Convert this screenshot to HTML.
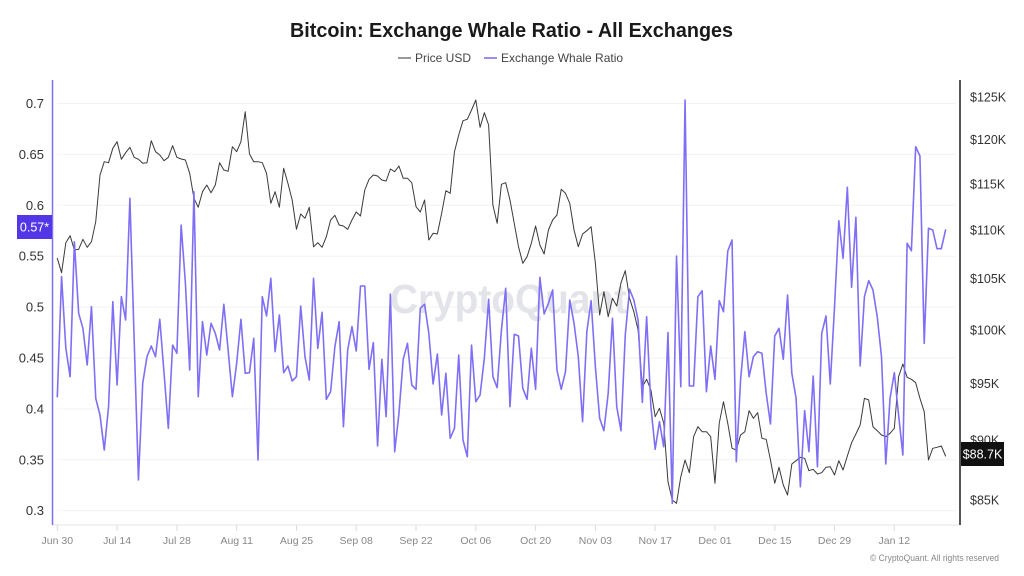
<!DOCTYPE html>
<html>
<head>
<meta charset="utf-8">
<style>
  html,body{margin:0;padding:0;background:#fff;}
  body{width:1024px;height:576px;overflow:hidden;}
  svg{display:block;font-family:"Liberation Sans",Arial,sans-serif;}
</style>
</head>
<body>
<svg width="1024" height="576" viewBox="0 0 1024 576" xmlns="http://www.w3.org/2000/svg">
  <rect x="0" y="0" width="1024" height="576" fill="#ffffff"/>

  <!-- Title -->
  <text x="290" y="37" font-size="20" font-weight="bold" fill="#1a1a1a" textLength="443" lengthAdjust="spacingAndGlyphs">Bitcoin: Exchange Whale Ratio - All Exchanges</text>

  <!-- Legend -->
  <line x1="398" y1="58" x2="411" y2="58" stroke="#555" stroke-width="1.2"/>
  <text x="415" y="62" font-size="12" fill="#444">Price USD</text>
  <line x1="484" y1="58" x2="497" y2="58" stroke="#8070f7" stroke-width="1.6"/>
  <text x="501" y="62" font-size="12" fill="#444">Exchange Whale Ratio</text>

  <!-- Gridlines -->
  <g stroke="#f2f2f2" stroke-width="1">
    <line x1="57" y1="103.5" x2="956" y2="103.5"/>
    <line x1="57" y1="154.4" x2="956" y2="154.4"/>
    <line x1="57" y1="205.3" x2="956" y2="205.3"/>
    <line x1="57" y1="256.2" x2="956" y2="256.2"/>
    <line x1="57" y1="307.1" x2="956" y2="307.1"/>
    <line x1="57" y1="358" x2="956" y2="358"/>
    <line x1="57" y1="408.9" x2="956" y2="408.9"/>
    <line x1="57" y1="459.8" x2="956" y2="459.8"/>
    <line x1="57" y1="510.7" x2="956" y2="510.7"/>
  </g>

  <!-- Watermark -->
  <text x="390" y="313" font-size="41" font-weight="bold" fill="#e3e3ea" textLength="237" lengthAdjust="spacingAndGlyphs">CryptoQuant</text>

  <!-- X axis -->
  <line x1="52" y1="525" x2="960" y2="525" stroke="#e4e4e4" stroke-width="1"/>
  <g stroke="#dcdcdc" stroke-width="1">
    <line x1="57.3" y1="525" x2="57.3" y2="531"/>
    <line x1="117.1" y1="525" x2="117.1" y2="531"/>
    <line x1="176.9" y1="525" x2="176.9" y2="531"/>
    <line x1="236.7" y1="525" x2="236.7" y2="531"/>
    <line x1="296.5" y1="525" x2="296.5" y2="531"/>
    <line x1="356.2" y1="525" x2="356.2" y2="531"/>
    <line x1="416" y1="525" x2="416" y2="531"/>
    <line x1="475.8" y1="525" x2="475.8" y2="531"/>
    <line x1="535.6" y1="525" x2="535.6" y2="531"/>
    <line x1="595.4" y1="525" x2="595.4" y2="531"/>
    <line x1="655.2" y1="525" x2="655.2" y2="531"/>
    <line x1="715" y1="525" x2="715" y2="531"/>
    <line x1="774.8" y1="525" x2="774.8" y2="531"/>
    <line x1="834.5" y1="525" x2="834.5" y2="531"/>
    <line x1="894.3" y1="525" x2="894.3" y2="531"/>
  </g>
  <g font-size="10.5" fill="#888" text-anchor="middle">
    <text x="57.3" y="544">Jun 30</text>
    <text x="117.1" y="544">Jul 14</text>
    <text x="176.9" y="544">Jul 28</text>
    <text x="236.7" y="544">Aug 11</text>
    <text x="296.5" y="544">Aug 25</text>
    <text x="356.2" y="544">Sep 08</text>
    <text x="416" y="544">Sep 22</text>
    <text x="475.8" y="544">Oct 06</text>
    <text x="535.6" y="544">Oct 20</text>
    <text x="595.4" y="544">Nov 03</text>
    <text x="655.2" y="544">Nov 17</text>
    <text x="715" y="544">Dec 01</text>
    <text x="774.8" y="544">Dec 15</text>
    <text x="834.5" y="544">Dec 29</text>
    <text x="894.3" y="544">Jan 12</text>
  </g>

  <!-- Left axis -->
  <line x1="52.5" y1="80" x2="52.5" y2="525" stroke="#7f6ff7" stroke-width="1.5"/>
  <g font-size="13" fill="#333" text-anchor="end">
    <text x="44" y="108">0.7</text>
    <text x="44" y="158.9">0.65</text>
    <text x="44" y="209.8">0.6</text>
    <text x="44" y="260.7">0.55</text>
    <text x="44" y="311.6">0.5</text>
    <text x="44" y="362.5">0.45</text>
    <text x="44" y="413.4">0.4</text>
    <text x="44" y="464.3">0.35</text>
    <text x="44" y="515.2">0.3</text>
  </g>
  <rect x="17" y="215" width="35" height="24" fill="#5336e6"/>
  <text x="34.5" y="231.5" font-size="12.5" fill="#fff" text-anchor="middle">0.57*</text>

  <!-- Right axis -->
  <line x1="960" y1="80" x2="960" y2="525" stroke="#555" stroke-width="2"/>
  <g font-size="12.5" fill="#333">
    <text x="970" y="101.5">$125K</text>
    <text x="970" y="144">$120K</text>
    <text x="970" y="188.5">$115K</text>
    <text x="970" y="234.5">$110K</text>
    <text x="970" y="283">$105K</text>
    <text x="970" y="334.5">$100K</text>
    <text x="970" y="388">$95K</text>
    <text x="970" y="444.5">$90K</text>
    <text x="970" y="504.5">$85K</text>
  </g>

  <!-- Series -->
  <g transform="translate(57.3,0) scale(4.2705,1)" fill="none" stroke-linejoin="round" stroke-linecap="round">
    <polyline vector-effect="non-scaling-stroke" stroke="#3a3a3a" stroke-width="1" points="0,258.3 1,272.7 2,242.7 3,235.7 4,250 5,249.3 6,239.3 7,247.3 8,241.7 9,221.7 10,175 11,161.7 12,162.7 13,148.3 14,141.7 15,159.3 16,152.7 17,147.3 18,157.3 19,159.3 20,163.3 21,162.7 22,140.7 23,151.7 24,155 25,160.7 26,157.3 27,145.7 28,157.3 29,159 30,160 31,173.3 32,198.3 33,207.3 34,191.7 35,185 36,192.7 37,185 38,162.7 39,170 40,171.3 41,146.7 42,151.7 43,141.7 44,111.7 45,154 46,161.7 47,161.7 48,162.7 49,173.3 50,203.3 51,191.7 52,207.3 53,168.3 54,183.3 55,200 56,229.3 57,214 58,218.3 59,207.3 60,246.7 61,242.7 62,247.3 63,236.7 64,220 65,215.3 66,225 67,226 68,229.3 69,220 70,212 71,216 72,190 73,179.3 74,175 75,176 76,180 77,181 78,169 79,171.7 80,166 81,178.3 82,178.3 83,182.7 84,206.7 85,212 86,200 87,240 88,233.3 89,234 90,213.3 91,190.7 92,193.3 93,151.7 94,135 95,120.7 96,119.3 97,110 98,100 99,127.3 100,112.7 101,125 102,205 103,223.3 104,184.3 105,182.7 106,200 107,223.3 108,246.7 109,263.3 110,256.7 111,243.3 112,226 113,245 114,254 115,230 116,220 117,215 118,189.3 119,193.3 120,203.3 121,230 122,246.7 123,234 124,230.7 125,226.7 126,263.3 127,315 128,291.7 129,316.7 130,298.3 131,306 132,282.7 133,270.7 134,298.3 135,311.7 136,330 137,386.7 138,379.3 139,390 140,416.7 141,408.3 142,423.3 143,481.7 144,500 145,503.3 146,476.7 147,460 148,472.7 149,436.7 150,426.7 151,431.7 152,431.7 153,436.7 154,483.3 155,423.3 156,401.7 157,423.3 158,448.3 159,450 160,435 161,431.7 162,410.7 163,418.3 164,412.7 165,438.3 166,439.3 167,460 168,483.3 169,467.3 170,485 171,495 172,464 173,460.7 174,457.3 175,458.3 176,470.7 177,469.3 178,474 179,472.7 180,467.3 181,466.7 182,475 183,460.7 184,470 185,456 186,442.7 187,434 188,425 189,398.3 190,400 191,426.7 192,430.7 193,435 194,436.7 195,433.3 196,428.3 197,376.7 198,364 199,377.3 200,379.3 201,382.7 202,398.3 203,411.7 204,460 205,448.3 206,447.3 207,446 208,456"/>
    <polyline vector-effect="non-scaling-stroke" stroke="#7f6ff7" stroke-width="1.6" points="0,396.7 1,276.7 2,348.3 3,376.7 4,241.7 5,313.3 6,328.3 7,365 8,306.7 9,398.3 10,415 11,450 12,406.7 13,301.7 14,385 15,296.7 16,320 17,198.3 18,340 19,480 20,383.3 21,356.7 22,346 23,356.7 24,319.3 25,373.3 26,428.3 27,345 28,353.3 29,225 30,283.3 31,370 32,191.7 33,396.7 34,321.7 35,355 36,323.3 37,333.3 38,350 39,304.3 40,350 41,396.7 42,363.3 43,319.3 44,373.3 45,372.7 46,338.3 47,460 48,296.7 49,316 50,278.3 51,351.7 52,315 53,372.7 54,366 55,381 56,376.7 57,306 58,356.7 59,380 60,278.3 61,348.3 62,312.3 63,399.3 64,391.7 65,346.7 66,321.7 67,426.7 68,350 69,326.7 70,351 71,286 72,286 73,369.3 74,342.7 75,446 76,359.3 77,416.7 78,294 79,451.7 80,413.3 81,359.3 82,343.3 83,385 84,389.3 85,308.3 86,304.3 87,333.3 88,384 89,354 90,415 91,373.3 92,438.3 93,428.3 94,355 95,440 96,456.7 97,345 98,401.7 99,395 100,358.3 101,299.3 102,376.7 103,387.7 104,330 105,288.3 106,406.7 107,334.3 108,336 109,388.3 110,399.3 111,348.3 112,389.3 113,277.3 114,314 115,303.3 116,290 117,370 118,389.3 119,371.7 120,300 121,323.3 122,356.7 123,421.7 124,331.7 125,300.7 126,366.7 127,418.3 128,430.7 129,393.3 130,318.3 131,406.7 132,430.7 133,335 134,289.3 135,300 136,320 137,402.3 138,316.7 139,406.7 140,449.3 141,421.7 142,446.7 143,332.7 144,503.3 145,256 146,386.7 147,100 148,386 149,386 150,296.7 151,290.7 152,391.7 153,346 154,379.3 155,300.7 156,311.7 157,251 158,240 159,461.7 160,380 161,331.7 162,376.7 163,356.7 164,351.7 165,353.3 166,393.3 167,424 168,336 169,328.3 170,359.3 171,295 172,373.3 173,398.3 174,486.7 175,410.7 176,451.7 177,376 178,466.7 179,333.3 180,316 181,384 182,306.7 183,220.7 184,258.3 185,187.3 186,287.3 187,217.3 188,366 189,296.7 190,280.7 191,290 192,316.7 193,356.7 194,464 195,398.3 196,372.7 197,415 198,455 199,243.3 200,250.7 201,146.7 202,156 203,343.3 204,228.3 205,230 206,248.7 207,248.7 208,230"/>
  </g>

  <!-- Last price box -->
  <rect x="961" y="442" width="43" height="24" fill="#111"/>
  <text x="982.5" y="458.5" font-size="12.5" fill="#fff" text-anchor="middle">$88.7K</text>

  <!-- Copyright -->
  <text x="870" y="561" font-size="9" fill="#888" textLength="129" lengthAdjust="spacingAndGlyphs">© CryptoQuant. All rights reserved</text>
</svg>
</body>
</html>
